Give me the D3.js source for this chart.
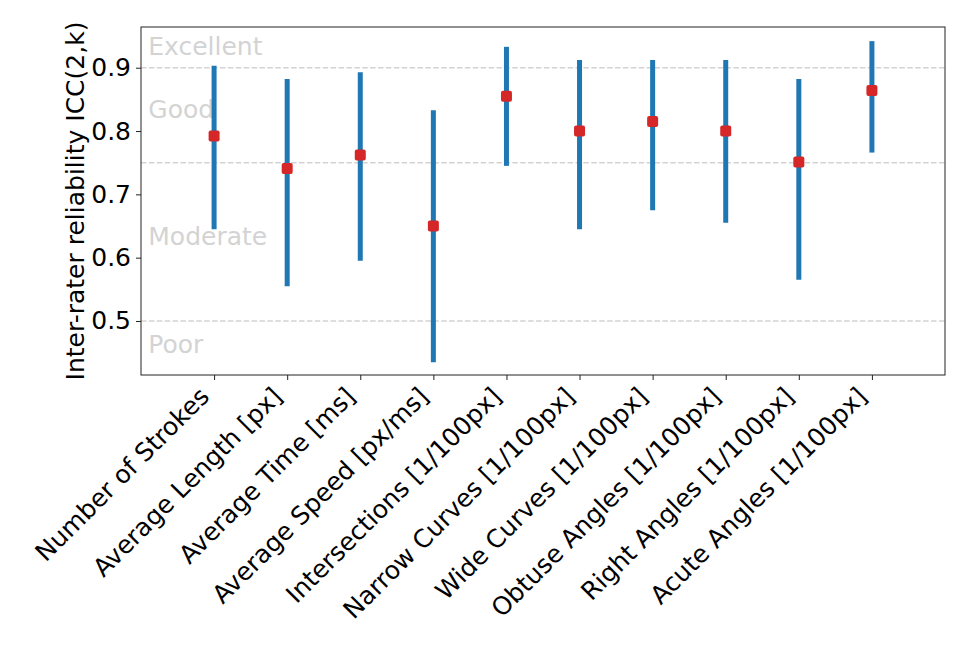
<!DOCTYPE html>
<html>
<head>
<meta charset="utf-8">
<script src="https://cdn.jsdelivr.net/npm/d3@7"></script>
<style>
  body { margin: 0; background: #fff; }
  svg { font-family: "DejaVu Sans", sans-serif; }
</style>
</head>
<body>
<div id="chart"></div>
<script>
// Feature names on the x axis
const features = [
  "Number of Strokes", "Average Length [px]", "Average Time [ms]",
  "Average Speed [px/ms]", "Intersections [1/100px]", "Narrow Curves [1/100px]",
  "Wide Curves [1/100px]", "Obtuse Angles [1/100px]", "Right Angles [1/100px]",
  "Acute Angles [1/100px]"
];
// ICC point estimates and 95% confidence bounds
const iccValues = [0.792, 0.741, 0.762, 0.650, 0.855, 0.800, 0.815, 0.800, 0.751, 0.864];
const ciLower = [0.645, 0.555, 0.595, 0.435, 0.745, 0.645, 0.675, 0.655, 0.565, 0.766];
const ciUpper = [0.903, 0.882, 0.893, 0.833, 0.933, 0.912, 0.912, 0.912, 0.882, 0.942];

// reliability bands
const thresholds = [0.5, 0.75, 0.9];
const bandLabels = ["Excellent", "Good", "Moderate", "Poor"];
const bandLabelY = [0.92, 0.82, 0.62, 0.45];
const yTicks = [0.5, 0.6, 0.7, 0.8, 0.9];

const width = 972, height = 648;
const margin = { top: 27, right: 27, bottom: 273, left: 141 };
const innerW = width - margin.left - margin.right;
const innerH = height - margin.top - margin.bottom;
const fontSize = "25px";

const svg = d3.select("#chart")
  .append("svg")
  .attr("width", width)
  .attr("height", height);

const g = svg.append("g")
  .attr("transform", `translate(${margin.left}, ${margin.top})`);

const x = d3.scaleLinear().domain([-1, 10]).range([0, innerW]);
const y = d3.scaleLinear().domain([0.4147, 0.9643]).range([innerH, 0]);

// dashed threshold lines
g.selectAll(".thr")
  .data(thresholds)
  .join("line")
  .attr("class", "thr")
  .attr("x1", 0).attr("x2", innerW)
  .attr("y1", d => y(d)).attr("y2", d => y(d))
  .attr("stroke", "#d3d3d3")
  .attr("stroke-width", 1.5)
  .attr("stroke-dasharray", "5.5,2.4");

// band labels
g.selectAll(".band")
  .data(bandLabels)
  .join("text")
  .attr("class", "band")
  .attr("x", x(-0.9))
  .attr("y", (d, i) => y(bandLabelY[i]))
  .attr("fill", "#d3d3d3")
  .style("font-size", fontSize)
  .text(d => d);

// error bars
g.selectAll(".err")
  .data(features)
  .join("line")
  .attr("class", "err")
  .attr("x1", (d, i) => x(i)).attr("x2", (d, i) => x(i))
  .attr("y1", (d, i) => y(ciLower[i]))
  .attr("y2", (d, i) => y(ciUpper[i]))
  .attr("stroke", "#1f77b4")
  .attr("stroke-width", 5);

// point estimates
const ms = 11;
g.selectAll(".pt")
  .data(iccValues)
  .join("rect")
  .attr("class", "pt")
  .attr("x", (d, i) => x(i) - ms / 2)
  .attr("y", d => y(d) - ms / 2)
  .attr("width", ms).attr("height", ms)
  .attr("rx", 2)
  .attr("fill", "#d62728");

// frame
g.append("rect")
  .attr("width", innerW).attr("height", innerH)
  .attr("fill", "none")
  .attr("stroke", "#222")
  .attr("stroke-width", 1);

// y axis
const yAxis = g.append("g")
  .call(d3.axisLeft(y).tickValues(yTicks).tickFormat(d3.format(".1f")).tickSizeInner(5).tickSizeOuter(0).tickPadding(5));
yAxis.select(".domain").remove();
yAxis.selectAll("line").attr("stroke", "#222");
yAxis.selectAll("text")
  .attr("fill", "#000")
  .style("font-size", fontSize)
  .style("font-family", "DejaVu Sans, sans-serif");

// x axis
const xAxis = g.append("g")
  .attr("transform", `translate(0, ${innerH})`)
  .call(d3.axisBottom(x).tickValues(d3.range(features.length)).tickFormat(i => features[i]).tickSizeInner(5).tickSizeOuter(0));
xAxis.select(".domain").remove();
xAxis.selectAll("line").attr("stroke", "#222");
xAxis.selectAll("text")
  .attr("fill", "#000")
  .style("font-size", fontSize)
  .style("font-family", "DejaVu Sans, sans-serif")
  .style("text-anchor", "end")
  .attr("y", 0)
  .attr("dy", 0)
  .attr("transform", "translate(-4, 23) rotate(-45)");

// y label
svg.append("text")
  .attr("transform", `translate(84, ${margin.top + innerH / 2}) rotate(-90)`)
  .attr("text-anchor", "middle")
  .style("font-size", fontSize)
  .text("Inter-rater reliability ICC(2,k)");
</script>
</body>
</html>
